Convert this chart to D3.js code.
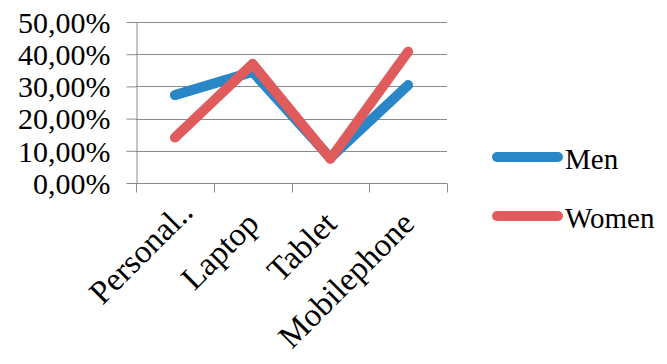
<!DOCTYPE html>
<html>
<head>
<meta charset="utf-8">
<script src="https://cdn.jsdelivr.net/npm/d3@7"></script>
<style>
  html, body { margin: 0; padding: 0; background: #fff; }
  svg { display: block; }
</style>
</head>
<body>
<svg id="chart" width="667" height="364"></svg>
<script>
// Device usage share by gender
const categories = ["Personal..", "Laptop", "Tablet", "Mobilephone"];
const menValues = [0.273, 0.345, 0.078, 0.304];
const womenValues = [0.141, 0.370, 0.075, 0.408];
const seriesNames = ["Men", "Women"];
const seriesColors = ["#2a87c7", "#e05b5b"];
const yTicks = [0, 0.1, 0.2, 0.3, 0.4, 0.5];

const series = [
  { name: seriesNames[0], color: seriesColors[0], values: menValues },
  { name: seriesNames[1], color: seriesColors[1], values: womenValues }
];

const FONT = "'Liberation Serif', 'DejaVu Serif', serif";
const TRUNC = "..";

const svg = d3.select("#chart");
const plot = { left: 136, right: 447, top: 22, bottom: 183 };

const x = d3.scaleBand().domain(categories).range([plot.left, plot.right]);
const y = d3.scaleLinear().domain([0, 0.5]).range([plot.bottom, plot.top]);
const fmt = v => d3.format(".2f")(v * 100).replace(".", ",") + "%";

// horizontal gridlines
svg.append("g")
  .selectAll("line")
  .data(yTicks)
  .join("line")
  .attr("x1", plot.left).attr("x2", plot.right)
  .attr("y1", d => Math.round(y(d)) + 0.5).attr("y2", d => Math.round(y(d)) + 0.5)
  .attr("stroke", "#8a8a8a").attr("stroke-width", 1);

// y axis
const yAxis = svg.append("g")
  .attr("transform", `translate(${plot.left + 0.5},0)`)
  .call(d3.axisLeft(y).tickValues(yTicks).tickFormat(fmt).tickSize(10).tickSizeOuter(0).tickPadding(16));
yAxis.attr("font-family", FONT).attr("font-size", 30);
yAxis.select(".domain").attr("stroke", "#8a8a8a");
yAxis.selectAll(".tick line").attr("stroke", "#8a8a8a");
yAxis.selectAll(".tick text")
  .attr("fill", "#000")
  .attr("dy", "0.34em");

// x axis: tick marks on band boundaries
const xAxisG = svg.append("g")
  .attr("transform", `translate(0,${plot.bottom + 0.5})`)
  .attr("font-family", FONT)
  .attr("font-size", 33);
const boundaries = categories.map(c => x(c)).concat([plot.right]);
xAxisG.selectAll("line")
  .data(boundaries)
  .join("line")
  .attr("x1", d => Math.round(d) + 0.5).attr("x2", d => Math.round(d) + 0.5)
  .attr("y1", 0).attr("y2", 9)
  .attr("stroke", "#8a8a8a");

// rotated category labels; a truncation mark runs past the label's end point
const labels = xAxisG.selectAll("g.label")
  .data(categories)
  .join("g")
  .attr("class", "label")
  .attr("transform", d => `translate(${x(d) + x.bandwidth() / 2 + 8},${42}) rotate(-45)`);
labels.append("text")
  .attr("text-anchor", "end")
  .text(d => d.endsWith(TRUNC) ? d.slice(0, -TRUNC.length) : d);
labels.filter(d => d.endsWith(TRUNC))
  .append("text")
  .attr("text-anchor", "start")
  .text(TRUNC);

// series lines
const line = d3.line()
  .x((d, i) => x(categories[i]) + x.bandwidth() / 2)
  .y(d => y(d));

svg.append("g")
  .selectAll("path")
  .data(series)
  .join("path")
  .attr("d", d => line(d.values))
  .attr("fill", "none")
  .attr("stroke", d => d.color)
  .attr("stroke-width", 10)
  .attr("stroke-linecap", "round")
  .attr("stroke-linejoin", "round");

// legend
const legend = svg.append("g")
  .attr("font-family", FONT)
  .attr("font-size", 29)
  .selectAll("g")
  .data(series)
  .join("g")
  .attr("transform", (d, i) => `translate(492,${157 + i * 59})`);
legend.append("line")
  .attr("x1", 5).attr("x2", 66)
  .attr("y1", 0).attr("y2", 0)
  .attr("stroke", d => d.color)
  .attr("stroke-width", 10)
  .attr("stroke-linecap", "round");
legend.append("text")
  .attr("x", 73).attr("y", 12)
  .text(d => d.name);
</script>
</body>
</html>
